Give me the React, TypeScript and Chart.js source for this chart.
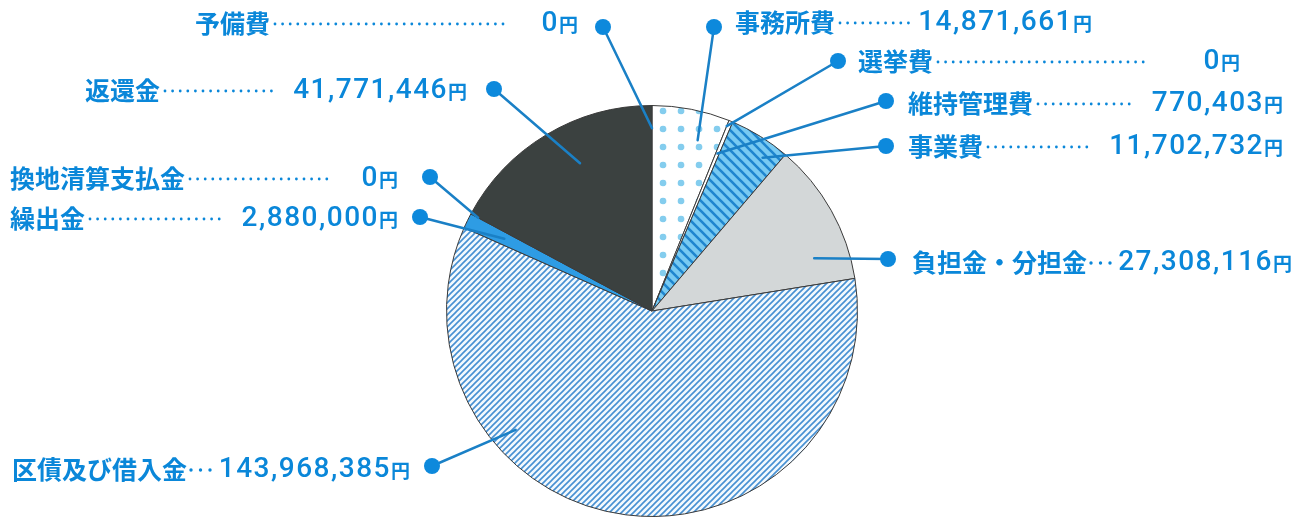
import React, { useEffect, useRef } from "react";
import { Chart, registerables } from "chart.js";

Chart.register(...registerables);

// ---- data ----
const categories = [
  "事務所費",
  "選挙費",
  "維持管理費",
  "事業費",
  "負担金・分担金",
  "区債及び借入金",
  "繰出金",
  "換地清算支払金",
  "返還金",
  "予備費",
];
const amounts = [14871661, 0, 770403, 11702732, 27308116, 143968385, 2880000, 0, 41771446, 0];
const amountLabels = [
  "14,871,661",
  "0",
  "770,403",
  "11,702,732",
  "27,308,116",
  "143,968,385",
  "2,880,000",
  "0",
  "41,771,446",
  "0",
];
const unit = "円";

// ---- layout (callout placement, not data) ----
type Callout = {
  dot: [number, number];
  x: number;
  y: number;
  end: number;
  lead: "dots" | "ellipsis";
  leadEnd: number;
  t: number;
  rf: number;
};
const callouts: Callout[] = [
  { dot: [714, 27], x: 735, y: 22, end: 1092, lead: "dots", leadEnd: 928, t: 0.68, rf: 0.86 },
  { dot: [838, 61], x: 858, y: 61, end: 1240, lead: "dots", leadEnd: 1150, t: 0, rf: 0.97 },
  { dot: [886, 101], x: 908, y: 103, end: 1283, lead: "dots", leadEnd: 1134, t: 0.5, rf: 0.83 },
  { dot: [886, 146], x: 908, y: 146, end: 1283, lead: "dots", leadEnd: 1090, t: 0.73, rf: 0.92 },
  { dot: [888, 259], x: 912, y: 262, end: 1292, lead: "ellipsis", leadEnd: 0, t: 0.78, rf: 0.83 },
  { dot: [432, 466], x: 12, y: 469, end: 410, lead: "ellipsis", leadEnd: 0, t: 0.695, rf: 0.88 },
  { dot: [420, 217], x: 10, y: 218, end: 398, lead: "dots", leadEnd: 222, t: 0.5, rf: 0.8 },
  { dot: [430, 177], x: 10, y: 178, end: 398, lead: "dots", leadEnd: 330, t: 0, rf: 0.96 },
  { dot: [494, 89], x: 85, y: 90, end: 467, lead: "dots", leadEnd: 272, t: 0.58, rf: 0.8 },
  { dot: [603, 27], x: 195, y: 23, end: 578, lead: "dots", leadEnd: 510, t: 0, rf: 0.89 },
];

const TEXT = "#0a87d9";
const LINE = "#1a80c6";
const DOT = "#0d89dc";
const CJK = '"Noto Sans CJK JP", "Noto Sans", sans-serif';

function makeDotPattern(ctx: CanvasRenderingContext2D): CanvasPattern | string {
  const s = 18;
  const c = document.createElement("canvas");
  c.width = s;
  c.height = s;
  const g = c.getContext("2d")!;
  g.fillStyle = "#ffffff";
  g.fillRect(0, 0, s, s);
  g.fillStyle = "#84cdee";
  const cx = 15, cy = 3;
  for (const ox of [-s, 0, s]) {
    for (const oy of [-s, 0, s]) {
      g.beginPath();
      g.arc(cx + ox, cy + oy, 3.3, 0, Math.PI * 2);
      g.fill();
    }
  }
  return ctx.createPattern(c, "repeat") || "#fff";
}

function makeHatch(
  ctx: CanvasRenderingContext2D,
  s: number,
  bg: string,
  fg: string,
  lw: number,
  dir: "back" | "fwd"
): CanvasPattern | string {
  const c = document.createElement("canvas");
  c.width = s;
  c.height = s;
  const g = c.getContext("2d")!;
  g.fillStyle = bg;
  g.fillRect(0, 0, s, s);
  g.strokeStyle = fg;
  g.lineWidth = lw;
  g.beginPath();
  for (const o of [-s, 0, s]) {
    if (dir === "fwd") {
      g.moveTo(o - 1, s + 1);
      g.lineTo(o + s + 1, -1);
    } else {
      g.moveTo(o - 1, -1);
      g.lineTo(o + s + 1, s + 1);
    }
  }
  g.stroke();
  return ctx.createPattern(c, "repeat") || bg;
}

const calloutPlugin = {
  id: "callouts",
  afterDraw(chart: any) {
    const ctx: CanvasRenderingContext2D = chart.ctx;
    const meta = chart.getDatasetMeta(0);
    meta.data.forEach((arc: any, i: number) => {
      const L = callouts[i];
      const p = arc.getProps(["x", "y", "startAngle", "endAngle", "outerRadius"], true);
      const a = p.startAngle + (p.endAngle - p.startAngle) * L.t;
      const r = p.outerRadius * L.rf;
      const px = p.x + r * Math.cos(a);
      const py = p.y + r * Math.sin(a);
      ctx.save();
      ctx.strokeStyle = LINE;
      ctx.lineWidth = 2.5;
      ctx.lineCap = "round";
      ctx.beginPath();
      ctx.moveTo(px, py);
      ctx.lineTo(L.dot[0], L.dot[1]);
      ctx.stroke();
      ctx.fillStyle = DOT;
      ctx.beginPath();
      ctx.arc(L.dot[0], L.dot[1], 8, 0, Math.PI * 2);
      ctx.fill();

      // name
      ctx.fillStyle = TEXT;
      ctx.textBaseline = "middle";
      ctx.textAlign = "left";
      ctx.font = `bold 25px ${CJK}`;
      ctx.fillText(categories[i], L.x, L.y);
      const nameEnd = L.x + ctx.measureText(categories[i]).width;

      // unit
      ctx.font = `bold 19px ${CJK}`;
      const uw = ctx.measureText(unit).width;
      ctx.textAlign = "right";
      ctx.fillText(unit, L.end, L.y + 2);

      // amount
      ctx.font = `500 28px Roboto, "Liberation Sans", Arial, sans-serif`;
      (ctx as any).letterSpacing = "1.5px";
      const numW = ctx.measureText(amountLabels[i]).width;
      ctx.fillText(amountLabels[i], L.end - uw, L.y + 1);
      (ctx as any).letterSpacing = "0px";
      const numStart = L.end - uw - numW;

      // leader dots
      let start: number, stop: number, step: number, rad: number;
      if (L.lead === "dots") {
        start = nameEnd + 5;
        stop = Math.min(L.leadEnd, numStart - 5);
        step = 7.6;
        rad = 1.4;
      } else {
        start = nameEnd + 4;
        stop = start + 19.5;
        step = 9.5;
        rad = 1.7;
      }
      for (let dx = start; dx <= stop + 0.01; dx += step) {
        ctx.beginPath();
        ctx.arc(dx, L.y + 1, rad, 0, Math.PI * 2);
        ctx.fill();
      }
      ctx.restore();
    });
  },
};

export default function App() {
  const ref = useRef<HTMLCanvasElement | null>(null);
  useEffect(() => {
    document.body.style.margin = "0";
    const canvas = ref.current!;
    const ctx = canvas.getContext("2d")!;
    const colors = [
      makeDotPattern(ctx),
      "#ffffff",
      "#ffffff",
      makeHatch(ctx, 10, "#78caf2", "#1f86cf", 2.6, "back"),
      "#d3d7d8",
      makeHatch(ctx, 6, "#f3f9fd", "#4790d2", 1.6, "fwd"),
      "#2e9ce4",
      "#ffffff",
      "#3b4140",
      "#ffffff",
    ];
    const chart = new Chart(canvas, {
      type: "pie",
      data: {
        labels: categories,
        datasets: [
          {
            data: amounts,
            backgroundColor: colors as any,
            borderColor: "#3a3a3a",
            borderWidth: 1,
          },
        ],
      },
      options: {
        responsive: false,
        animation: false,
        devicePixelRatio: 1,
        layout: { padding: { left: 446, right: 449, top: 105, bottom: 4 } },
        plugins: { legend: { display: false }, tooltip: { enabled: false } },
      },
      plugins: [calloutPlugin],
    });
    return () => chart.destroy();
  }, []);
  return (
    <div style={{ width: 1307, height: 521, background: "#fff" }}>
      <canvas ref={ref} width={1307} height={521} style={{ display: "block" }} />
    </div>
  );
}
